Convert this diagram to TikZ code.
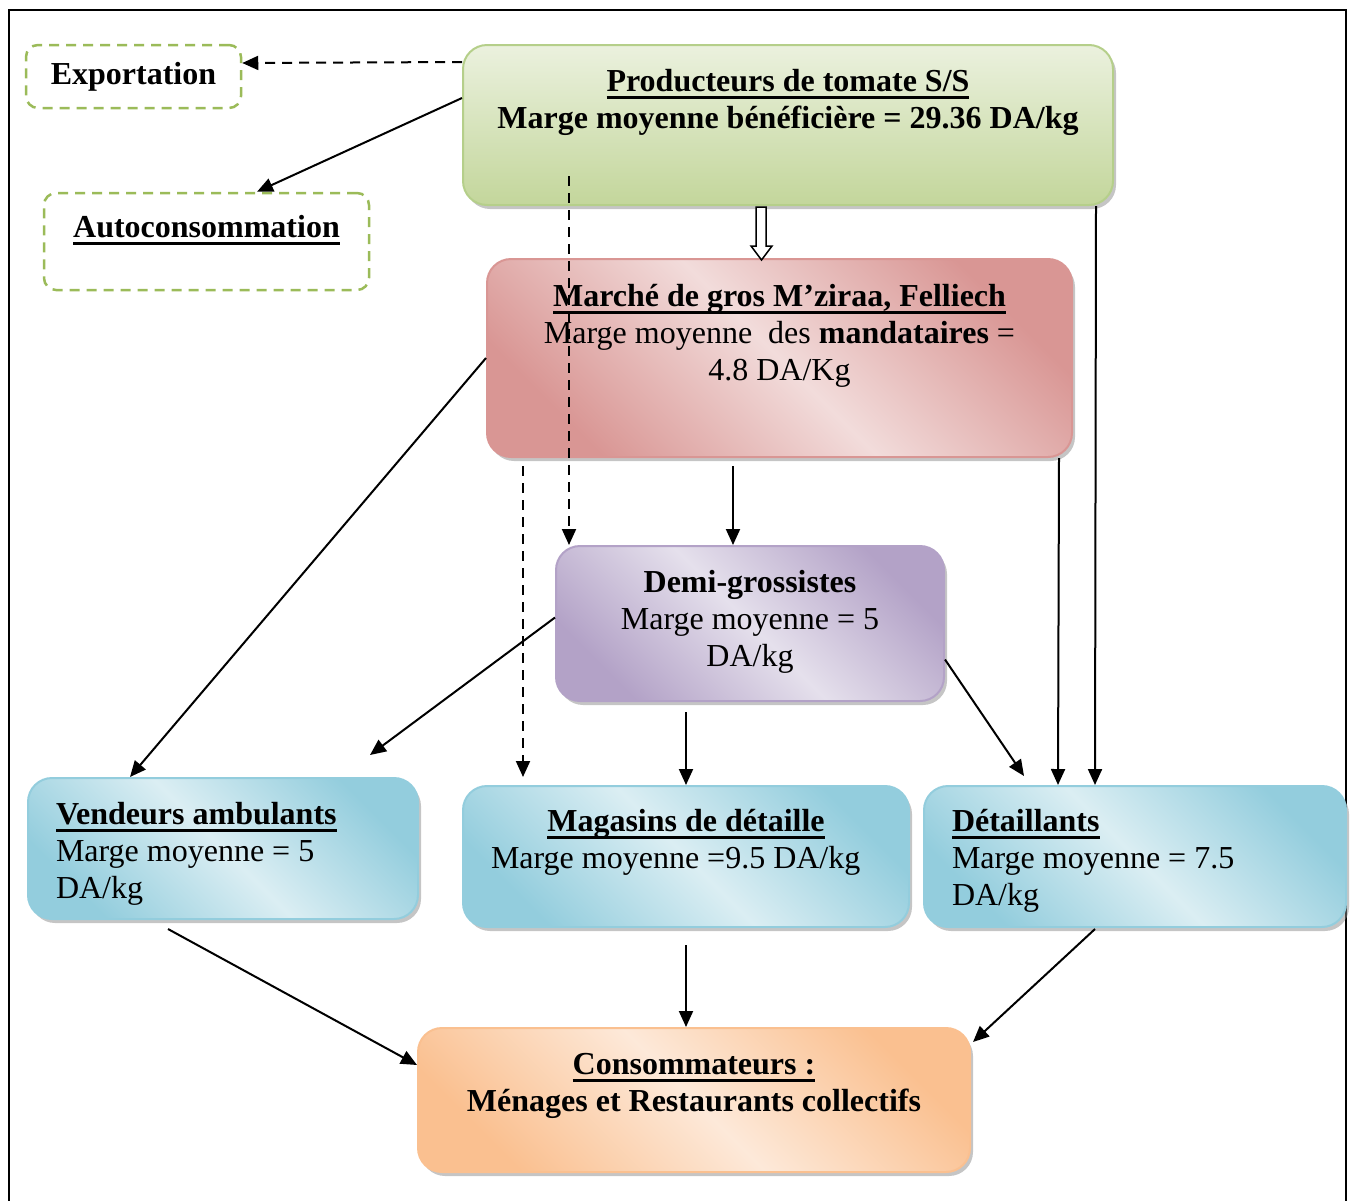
\documentclass[tikz,border=0pt]{standalone}
\usepackage{fontspec}
\setmainfont{Liberation Serif}
\usepackage{tikz}
\usetikzlibrary{calc, arrows.meta, shadows}
\definecolor{grnline}{RGB}{155,187,89}
\definecolor{grnlight}{RGB}{235,241,222}
\definecolor{grndark}{RGB}{195,214,155}
\definecolor{grnedge}{RGB}{181,207,138}
\definecolor{reddark}{RGB}{217,150,148}
\definecolor{redlight}{RGB}{242,220,219}
\definecolor{purdark}{RGB}{179,162,199}
\definecolor{purlight}{RGB}{229,224,236}
\definecolor{bludark}{RGB}{147,205,221}
\definecolor{blulight}{RGB}{219,238,243}
\definecolor{orgdark}{RGB}{250,192,144}
\definecolor{orglight}{RGB}{253,233,217}
\newcommand{\boxtext}[4]{\parbox[c][#1][t]{#2}{\vspace*{#3}#4}}
\newcommand{\undl}[1]{\setbox0\hbox{#1}\rlap{\rule[-7pt]{\wd0}{2.5pt}}\box0}

\begin{document}
\begin{tikzpicture}[x=1pt, y=-1pt, font=\fontsize{32}{37}\selectfont,
    box/.style={rounded corners=24pt, line width=2pt, inner sep=0pt,
      drop shadow={shadow xshift=3pt, shadow yshift=-4pt, fill=black!45}},
    diagbox/.style 2 args={box, draw=#1, top color=#1, bottom color=#1,
      middle color=#2, shading angle=-45},
    greenbox/.style={box, draw=grnedge, top color=grnlight, bottom color=grndark},
    dashbox/.style={draw=grnline, line width=2.5pt, dash pattern=on 10pt off 7pt,
      rounded corners=12pt, align=center},
    arr/.style={line width=2pt, -{Triangle[length=16pt,width=14pt]}},
    dsharr/.style={arr, dash pattern=on 10pt off 7pt}]
  \useasboundingbox (0,0) rectangle (1352,1200);
  \draw[line width=2pt] (9,1230) -- (9,10) -- (1346,10) -- (1346,1230);

  % side outlets
  \node[dashbox, minimum width=215pt, minimum height=63pt] (exp) at (133.5,76.5)
    {\raisebox{-2pt}{\textbf{Exportation}}};
  \node[dashbox, minimum width=325pt, minimum height=97pt, inner sep=0pt] (auto) at (206.5,241.5)
    {\boxtext{97pt}{300pt}{19pt}{\centering\strut\undl{\textbf{Autoconsommation}}}};

  % chain
  \node[greenbox, minimum width=650pt] (prod) at (788,125)
    {\boxtext{160pt}{640pt}{21pt}{\centering\strut\undl{\textbf{Producteurs de tomate S/S}}\\
      \textbf{Marge moyenne bénéficière = 29.36 DA/kg}}};
  \node[diagbox={reddark}{redlight}, minimum width=585pt] (marche) at (779.5,358)
    {\boxtext{198pt}{560pt}{22pt}{\centering\strut\undl{\textbf{Marché de gros M’ziraa, Felliech}}\\
      Marge moyenne\ \ des \textbf{mandataires} =\\ 4.8 DA/Kg}};
  \node[diagbox={purdark}{purlight}, minimum width=388pt] (demi) at (750,623.5)
    {\boxtext{155pt}{360pt}{21pt}{\centering\strut\textbf{Demi-grossistes}\\
      Marge moyenne = 5\\ DA/kg}};
  \node[diagbox={bludark}{blulight}, minimum width=390pt] (vend) at (223,848.5)
    {\boxtext{141pt}{334pt}{21pt}{\raggedright\strut\undl{\textbf{Vendeurs ambulants}}\\
      Marge moyenne = 5\\ DA/kg}};
  \node[diagbox={bludark}{blulight}, minimum width=446pt] (mag) at (686,856.5)
    {\boxtext{141pt}{390pt}{20pt}{{\centering\strut\undl{\textbf{Magasins de détaille}}\par}
      Marge moyenne =9.5 DA/kg}};
  \node[diagbox={bludark}{blulight}, minimum width=422pt] (det) at (1135,856.5)
    {\boxtext{141pt}{366pt}{20pt}{\raggedright\strut\undl{\textbf{Détaillants}}\\
      Marge moyenne = 7.5\\ DA/kg}};
  \node[diagbox={orgdark}{orglight}, minimum width=552pt] (cons) at (694,1100)
    {\boxtext{144pt}{520pt}{21pt}{\centering\strut\undl{\textbf{Consommateurs :}}\\
      \textbf{Ménages et Restaurants collectifs}}};

  \coordinate (vendin) at (370,755);
  \coordinate (detin) at (1024,776);

  % flows
  \draw[dsharr] ($(prod.north west)+(0,18)$) -- ($(exp.east)+(0,-13.5)$);
  \draw[arr] ($(prod.west)+(0,-27)$) -- ($(auto.north)+(50.5,0)$);
  \draw[line width=1.5pt, fill=white] ($(prod.south)+(-32,1)$) -- ++(10,0) -- ++(0,39)
    -- ++(6,0) -- ++(-10.5,14) -- ++(-10.5,-14) -- ++(5,0) -- cycle;
  \draw[dsharr] ($(prod.south)+(-219,-30)$) -- ($(demi.north)+(-181,0)$);
  \draw[arr] ($(prod.south east)+(-18,0)$) -- ($(det.north)+(-40,0)$);
  \draw[arr] (marche.west) -- ($(vend.north)+(-93,0)$);
  \draw[dsharr] ($(marche.south)+(-256.5,8)$) -- ($(mag.north)+(-163,-8)$);
  \draw[arr] ($(marche.south)+(-46.5,8)$) -- ($(demi.north)+(-17,0)$);
  \draw[arr] ($(marche.south east)+(-14,0)$) -- ($(det.north)+(-77,0)$);
  \draw[arr] ($(demi.west)+(0,-6)$) -- (vendin);
  \draw[arr] ($(demi.east)+(0,36)$) -- (detin);
  \draw[arr] ($(demi.south -| mag.north)+(0,10)$) -- (mag.north);
  \draw[arr] ($(vend.south)+(-55,9)$) -- ($(cons.west)+(0,-35)$);
  \draw[arr] ($(mag.south)+(0,17)$) -- (mag.south |- cons.north);
  \draw[arr] ($(det.south)+(-40,1)$) -- ($(cons.north east)+(2,15)$);
\end{tikzpicture}
\end{document}
